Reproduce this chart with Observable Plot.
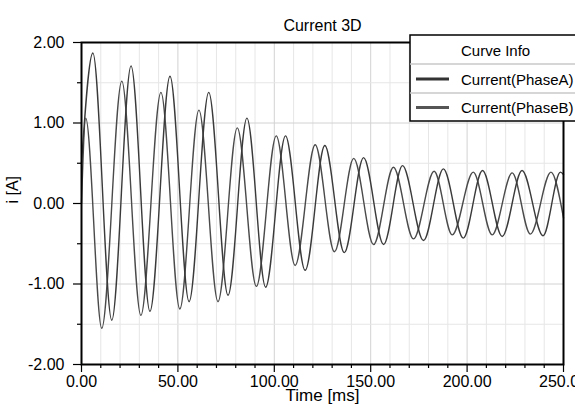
<!DOCTYPE html>
<html>
<head>
<meta charset="utf-8">
<script src="https://cdn.jsdelivr.net/npm/d3@7"></script>
<script src="https://cdn.jsdelivr.net/npm/@observablehq/plot@0.6"></script>
<style>
  html, body { margin: 0; padding: 0; background: white; }
  svg { display: block; }
</style>
</head>
<body>
<div id="chart"></div>
<script>
// ---- Data (peaks / troughs of each trace) ----
const timeA = [0, 5.9, 15.7, 25.7, 35.5, 45.9, 55.8, 66.0, 76.0, 85.8, 95.5, 105.8, 116.0, 126.2, 136.3, 146.3, 156.7, 166.5, 177.4, 187.7, 198.0, 208.0, 218.2, 228.5, 239.4, 248.4, 250];
const currentA = [0.5, 1.87, -1.45, 1.71, -1.34, 1.58, -1.22, 1.38, -1.14, 1.06, -1.04, 0.84, -0.83, 0.72, -0.61, 0.57, -0.51, 0.47, -0.46, 0.43, -0.43, 0.41, -0.41, 0.41, -0.40, 0.39, 0.36];
const timeB = [0, 2.2, 10.5, 20.9, 30.8, 41.2, 51.0, 60.9, 70.8, 80.8, 90.7, 101.0, 110.8, 121.2, 131.2, 141.2, 151.5, 161.8, 172.2, 182.9, 192.3, 203.2, 213.0, 223.4, 232.8, 243.5, 250];
const currentB = [0.0, 1.06, -1.55, 1.52, -1.39, 1.38, -1.31, 1.16, -1.22, 0.94, -1.03, 0.84, -0.77, 0.73, -0.60, 0.56, -0.51, 0.45, -0.44, 0.40, -0.39, 0.39, -0.39, 0.38, -0.38, 0.39, -0.18];

const seriesNames = ["Current(PhaseA)", "Current(PhaseB)"];
const xMajorTicks = [0, 50, 100, 150, 200, 250];
const xMinorTicks = [10, 20, 30, 40, 60, 70, 80, 90, 110, 120, 130, 140, 160, 170, 180, 190, 210, 220, 230, 240];
const yMajorTicks = [-2, -1, 0, 1, 2];
const yMinorTicks = [-1.5, -0.5, 0.5, 1.5];
const titleText = "Current 3D";
const xLabel = "Time [ms]";
const yLabel = "i [A]";
const legendTitle = "Curve Info";

const dataA = timeA.map((t, i) => ({t, v: currentA[i]}));
const dataB = timeB.map((t, i) => ({t, v: currentB[i]}));

const font = "'Liberation Sans', Arial, sans-serif";

const svg = Plot.plot({
  width: 575,
  height: 408,
  marginLeft: 81,
  marginRight: 12,
  marginTop: 42,
  marginBottom: 44,
  style: {fontFamily: font, fontSize: "16px", background: "white", color: "black"},
  x: {domain: [0, 250], label: null},
  y: {domain: [-2, 2], label: null},
  marks: [
    Plot.gridX(xMinorTicks, {stroke: "#e6e6e6", strokeOpacity: 1}),
    Plot.gridX(xMajorTicks, {stroke: "#d2d2d2", strokeOpacity: 1}),
    Plot.gridY(yMinorTicks, {stroke: "#e6e6e6", strokeOpacity: 1}),
    Plot.gridY(yMajorTicks, {stroke: "#d2d2d2", strokeOpacity: 1}),
    Plot.axisX(xMinorTicks, {tickSize: 4, tickFormat: () => "", label: null, strokeWidth: 1.2}),
    Plot.axisX(xMajorTicks, {tickSize: 8, tickPadding: 3, tickFormat: d => d.toFixed(2), label: null, fontSize: 16, strokeWidth: 1.2}),
    Plot.axisY(yMinorTicks, {tickSize: 4, tickFormat: () => "", label: null, strokeWidth: 1.2}),
    Plot.axisY(yMajorTicks, {tickSize: 8, tickPadding: 9, tickFormat: d => d.toFixed(2), label: null, fontSize: 16, strokeWidth: 1.2}),
    Plot.line(dataB, {x: "t", y: "v", curve: "monotone-x", stroke: "#4a4a4a", strokeWidth: 1.4}),
    Plot.line(dataA, {x: "t", y: "v", curve: "monotone-x", stroke: "#3a3a3a", strokeWidth: 1.4}),
    Plot.frame({stroke: "black", strokeWidth: 2}),
    Plot.text([titleText], {frameAnchor: "top", dy: -23, fontSize: 16}),
    Plot.text([xLabel], {frameAnchor: "bottom", dy: 36, fontSize: 17}),
    Plot.text([yLabel], {frameAnchor: "left", dx: -69, rotate: -90, fontSize: 16})
  ]
});

// Legend box ("Curve Info") in the top-right corner
const s = d3.select(svg);
const g = s.append("g").attr("font-family", font).attr("font-size", 15).attr("text-anchor", "start");
g.append("rect").attr("x", 410).attr("y", 35).attr("width", 200).attr("height", 86)
  .attr("fill", "white").attr("stroke", "black").attr("stroke-width", 1.5);
g.append("line").attr("x1", 410).attr("x2", 610).attr("y1", 64).attr("y2", 64).attr("stroke", "#c8c8c8").attr("stroke-width", 1.5);
g.append("line").attr("x1", 410).attr("x2", 610).attr("y1", 93).attr("y2", 93).attr("stroke", "#c8c8c8").attr("stroke-width", 1.5);
g.append("text").attr("x", 461).attr("y", 55.5).attr("text-anchor", "start").text(legendTitle);
const legendColors = ["#333333", "#555555"];
seriesNames.forEach((name, i) => {
  const cy = 79 + i * 28.5;
  g.append("line").attr("x1", 416).attr("x2", 449).attr("y1", cy).attr("y2", cy)
    .attr("stroke", legendColors[i]).attr("stroke-width", 3);
  g.append("text").attr("x", 461).attr("y", cy + 5.5).attr("text-anchor", "start").text(name);
});

document.getElementById("chart").appendChild(svg);
</script>
</body>
</html>
